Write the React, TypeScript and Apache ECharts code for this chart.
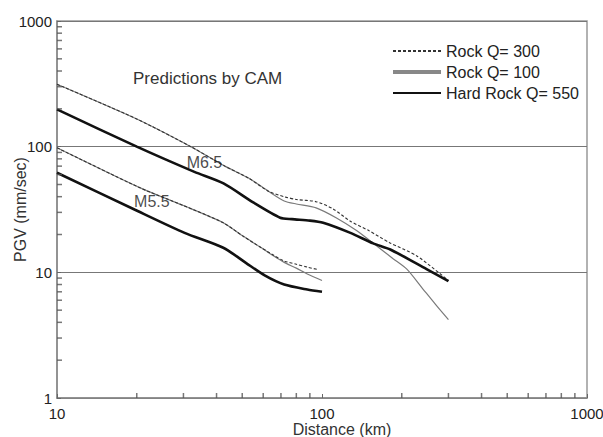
import React, { useEffect, useRef } from "react";
import * as echarts from "echarts";

// ---- data (distance km, PGV mm/sec) ----
const q300DistM65 = [10, 20, 32, 43, 53, 63, 72, 80, 95, 110, 128, 150, 180, 228, 300];
const q300PgvM65 = [314, 166, 100, 70, 56, 44, 40, 38, 36.5, 32, 25.5, 21.5, 17.2, 13.5, 8.6];

const q100DistM65 = [10, 20, 32, 43, 53, 63, 72, 80, 95, 113, 135, 161, 185, 209, 240, 271, 300];
const q100PgvM65 = [314, 166, 100, 70, 56, 44, 37, 35, 32.6, 27.2, 21.5, 16.2, 12.9, 10.6, 7.4, 5.4, 4.2];

const hrDistM65 = [10, 20, 33, 42.5, 55, 69.5, 77, 90, 101, 128, 156, 181, 248, 300];
const hrPgvM65 = [198, 100, 63, 51, 36, 27.2, 26.5, 25.8, 24.8, 20.6, 17, 15.2, 10.6, 8.5];

const q300DistM55 = [10, 20.6, 30, 42.4, 50, 59, 66, 72, 80, 88, 97];
const q300PgvM55 = [98, 47, 34, 24.8, 19.6, 15.7, 13.6, 12.3, 11.6, 11.0, 10.5];

const q100DistM55 = [10, 20.6, 30, 42.4, 50, 59, 66, 72, 80, 88, 100];
const q100PgvM55 = [98, 47, 34, 24.8, 19.6, 15.7, 13.4, 12.0, 10.8, 9.7, 8.6];

const hrDistM55 = [10, 19.6, 30.3, 42.4, 51.6, 61, 72, 88, 100];
const hrPgvM55 = [62, 31.6, 20.6, 15.7, 11.9, 9.4, 8.0, 7.3, 7.0];

const seriesNames = ["Rock Q= 300", "Rock Q= 100", "Hard Rock Q= 550"];
const magnitudeLabels = ["M6.5", "M5.5"];
const magnitudeLabelDist = [36, 22.8];
const magnitudeLabelPgv = [75, 36.6];

const minorTicksX = [20, 30, 40, 50, 60, 70, 80, 90, 200, 300, 400, 500, 600, 700, 800, 900];
const minorTicksY = [2, 3, 4, 5, 6, 7, 8, 9, 20, 30, 40, 50, 60, 70, 80, 90, 200, 300, 400, 500, 600, 700, 800, 900];

const pairs = (xs: number[], ys: number[]) => xs.map((x, i) => [x, ys[i]]);

const FONT = "'Liberation Sans', Arial, sans-serif";

export default function App() {
  const ref = useRef<HTMLDivElement>(null);

  useEffect(() => {
    if (!ref.current) return;
    const chart = echarts.init(ref.current, undefined, { renderer: "svg" });

    const q300Style = { color: "#333", width: 1.1, type: [3, 2] as any };
    const q100Style = { color: "#7a7a7a", width: 1.2 };
    const hrStyle = { color: "#111", width: 2.6 };

    const lineSeries = (name: string, data: number[][], lineStyle: any, z: number) => ({
      type: "line",
      name,
      data,
      symbol: "none",
      smooth: 0.25,
      lineStyle,
      itemStyle: { color: lineStyle.color },
      z,
      silent: true,
    });

    chart.setOption({
      animation: false,
      textStyle: { fontFamily: FONT },
      grid: {
        left: 57,
        right: 16,
        top: 21,
        bottom: 39,
        outerBoundsMode: "none",
        containLabel: false,
        show: true,
        borderColor: "#999",
        borderWidth: 1.5,
        backgroundColor: "#fff",
      },
      title: {
        text: "Predictions by CAM",
        left: 128,
        top: 65,
        textStyle: { fontSize: 17, fontWeight: "normal", color: "#333", fontFamily: FONT },
      },
      legend: {
        orient: "vertical",
        left: 386,
        top: 38,
        itemWidth: 48,
        itemHeight: 12,
        itemGap: 5,
        itemStyle: { opacity: 0 },
        textStyle: { fontSize: 16, color: "#222", fontFamily: FONT },
        data: [
          { name: seriesNames[0] },
          { name: seriesNames[1], lineStyle: { width: 4, color: "#888" } },
          { name: seriesNames[2], lineStyle: { width: 1.8, color: "#111" } },
        ],
      },
      xAxis: {
        type: "log",
        logBase: 10,
        min: 10,
        max: 1000,
        name: "Distance (km)",
        nameLocation: "middle",
        nameGap: 23,
        nameMoveOverlap: false,
        nameTextStyle: { fontSize: 16, color: "#333", padding: [0, 0, 0, 40], fontFamily: FONT },
        axisLine: { lineStyle: { color: "#888", width: 1.5 } },
        axisTick: { inside: true, length: 4, lineStyle: { color: "#666" } },
        axisLabel: {
          fontSize: 15,
          color: "#222",
          margin: 8,
          fontFamily: FONT,
          formatter: (v: number) => String(Math.round(v)),
        },
        splitLine: { show: false },
      },
      yAxis: {
        type: "log",
        logBase: 10,
        min: 1,
        max: 1000,
        name: "PGV (mm/sec)",
        nameLocation: "middle",
        nameGap: 29,
        nameMoveOverlap: false,
        nameTextStyle: { fontSize: 16, color: "#333", fontFamily: FONT },
        axisLine: { lineStyle: { color: "#888", width: 1.5 } },
        axisTick: { inside: true, length: 4, lineStyle: { color: "#666" } },
        axisLabel: {
          fontSize: 15,
          color: "#222",
          margin: 5,
          fontFamily: FONT,
          formatter: (v: number) => String(Math.round(v)),
        },
        splitLine: { show: true, lineStyle: { color: "#777", width: 1 } },
      },
      series: [
        lineSeries(seriesNames[1], pairs(q100DistM65, q100PgvM65), q100Style, 2),
        lineSeries(seriesNames[0], pairs(q300DistM65, q300PgvM65), q300Style, 3),
        lineSeries(seriesNames[2], pairs(hrDistM65, hrPgvM65), hrStyle, 4),
        lineSeries(seriesNames[1], pairs(q100DistM55, q100PgvM55), q100Style, 2),
        lineSeries(seriesNames[0], pairs(q300DistM55, q300PgvM55), q300Style, 3),
        lineSeries(seriesNames[2], pairs(hrDistM55, hrPgvM55), hrStyle, 4),
        {
          type: "scatter",
          name: "magnitudes",
          silent: true,
          clip: false,
          symbolSize: 1,
          itemStyle: { color: "rgba(0,0,0,0)" },
          z: 6,
          label: {
            show: true,
            position: "inside",
            formatter: "{b}",
            fontSize: 16,
            color: "#1a1a1a",
            fontFamily: FONT,
          },
          data: magnitudeLabels.map((m, i) => ({
            name: m,
            value: [magnitudeLabelDist[i], magnitudeLabelPgv[i]],
          })),
        },
        {
          type: "scatter",
          name: "minorX",
          silent: true,
          clip: false,
          symbol: "rect",
          symbolSize: [1.5, 5],
          symbolOffset: [0, -2.5],
          itemStyle: { color: "#555" },
          z: 5,
          data: minorTicksX.map((x) => [x, 1]),
        },
        {
          type: "scatter",
          name: "minorY",
          silent: true,
          clip: false,
          symbol: "rect",
          symbolSize: [5, 1.5],
          symbolOffset: [2.5, 0],
          itemStyle: { color: "#555" },
          z: 5,
          data: minorTicksY.map((y) => [10, y]),
        },
      ],
    });

    return () => chart.dispose();
  }, []);

  return (
    <div
      ref={ref}
      style={{ position: "fixed", left: 0, top: 0, width: 603, height: 437, background: "#fff" }}
    />
  );
}
